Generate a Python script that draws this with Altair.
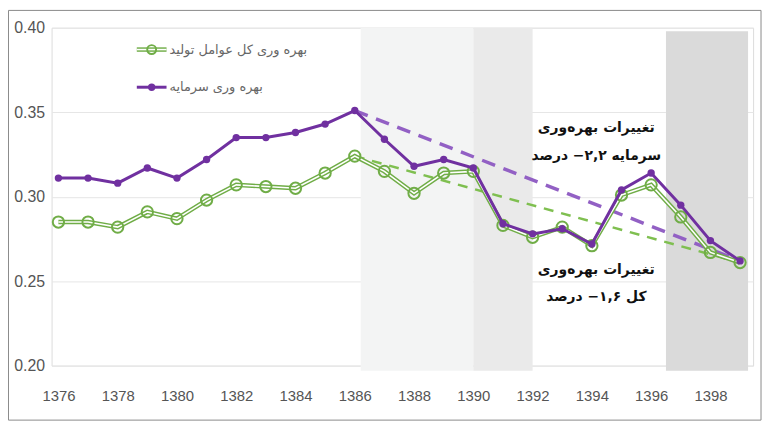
import altair as alt
import pandas as pd

years = list(range(1376, 1400))
capital = [0.311, 0.311, 0.308, 0.317, 0.311, 0.322, 0.335, 0.335, 0.338, 0.343, 0.351,
           0.334, 0.318, 0.322, 0.317, 0.284, 0.278, 0.281, 0.272, 0.304, 0.314, 0.295,
           0.274, 0.262]
tfp = [0.285, 0.285, 0.282, 0.291, 0.287, 0.298, 0.307, 0.306, 0.305, 0.314, 0.324,
       0.315, 0.302, 0.314, 0.315, 0.283, 0.276, 0.282, 0.271, 0.301, 0.307, 0.288,
       0.267, 0.261]
series_names = ["بهره وری کل عوامل تولید", "بهره وری سرمایه"]

band_start = [1386.2, 1390, 1396.5]
band_end = [1390, 1392, 1399.27]
band_top = [0.40, 0.40, 0.398]
band_color = ["#f3f4f4", "#eaeaea", "#dadada"]

trend_from = 1386
trend_to = 1399

ann_x = [1394.15, 1394.15, 1394.15, 1394.15]
ann_y = [0.3406, 0.3241, 0.2565, 0.2406]
ann_text = ["تغییرات بهره‌وری", "سرمایه ۲,۲− درصد", "تغییرات بهره‌وری", "کل ۱,۶− درصد"]

xticks = list(range(1376, 1400, 2))
yticks = [0.20, 0.25, 0.30, 0.35, 0.40]

PURPLE = "#7030a0"
PURPLE_D = "#9260c4"
GREEN = "#70ad47"
GREEN_D = "#7fbf50"

df = pd.DataFrame({"year": years, "capital": capital, "tfp": tfp})
bands = pd.DataFrame({"x": band_start, "x2": band_end, "y": [0.197] * 3, "y2": band_top, "c": band_color})
i0 = years.index(trend_from)
i1 = years.index(trend_to)
trend = pd.DataFrame({
    "year": [trend_from, trend_to, trend_from, trend_to],
    "v": [capital[i0], capital[i1], tfp[i0], tfp[i1]],
    "s": ["cap", "cap", "tfp", "tfp"],
})
ann = pd.DataFrame({"x": ann_x, "y": ann_y, "t": ann_text})

xscale = alt.Scale(domain=[1375.77, 1399.44], nice=False, zero=False)
yscale = alt.Scale(domain=[0.20, 0.40], nice=False, zero=False)
xaxis = alt.Axis(values=xticks, format="d", grid=False, domain=False, ticks=False, labelPadding=23,
                 labelFontSize=15, labelFont="Liberation Sans", labelColor="#555", title=None)
yaxis = alt.Axis(values=yticks, format=".2f", grid=True, gridColor="#e6e6e6", domain=False, ticks=False,
                 labelPadding=7, labelFontSize=16, labelFont="Liberation Sans", labelColor="#555",
                 title=None)

frame = alt.Chart(pd.DataFrame({"a": [0]})).mark_rect(fill=None, stroke="#8a8a8a", strokeWidth=1).encode(
    x=alt.value(-43.5), x2=alt.value(716), y=alt.value(-17.5), y2=alt.value(396))

band_layer = alt.Chart(bands).mark_rect().encode(
    x=alt.X("x:Q", scale=xscale, axis=xaxis), x2="x2:Q",
    y=alt.Y("y:Q", scale=yscale, axis=yaxis), y2="y2:Q",
    color=alt.Color("c:N", scale=None))

base = alt.Chart(df)

trend_cap = alt.Chart(trend[trend.s == "cap"]).mark_line(color=PURPLE_D, strokeWidth=3.5, strokeDash=[14, 9]).encode(
    x=alt.X("year:Q", scale=xscale), y=alt.Y("v:Q", scale=yscale))
trend_tfp = alt.Chart(trend[trend.s == "tfp"]).mark_line(color=GREEN_D, strokeWidth=2.5, strokeDash=[10, 8]).encode(
    x=alt.X("year:Q", scale=xscale), y=alt.Y("v:Q", scale=yscale))

tfp_outer = base.mark_line(color=GREEN, strokeWidth=4.5).encode(x=alt.X("year:Q", scale=xscale), y=alt.Y("tfp:Q", scale=yscale))
tfp_inner = base.mark_line(color="white", strokeWidth=1.6).encode(x=alt.X("year:Q", scale=xscale), y=alt.Y("tfp:Q", scale=yscale))
tfp_pts = base.mark_point(shape="circle", size=130, filled=False, color=GREEN, strokeWidth=2, opacity=1).encode(
    x=alt.X("year:Q", scale=xscale), y=alt.Y("tfp:Q", scale=yscale))

cap_line = base.mark_line(color=PURPLE, strokeWidth=3).encode(x=alt.X("year:Q", scale=xscale), y=alt.Y("capital:Q", scale=yscale))
cap_pts = base.mark_circle(color=PURPLE, size=55, opacity=1).encode(x=alt.X("year:Q", scale=xscale), y=alt.Y("capital:Q", scale=yscale))

one = alt.Chart(pd.DataFrame({"a": [0]}))
leg_g1 = one.mark_rule(color=GREEN, strokeWidth=4.5).encode(x=alt.value(86), x2=alt.value(116), y=alt.value(22))
leg_g2 = one.mark_rule(color="white", strokeWidth=1.6).encode(x=alt.value(86), x2=alt.value(116), y=alt.value(22))
leg_gp = one.mark_point(shape="circle", size=80, filled=False, color=GREEN, strokeWidth=2, opacity=1).encode(
    x=alt.value(101), y=alt.value(22))
leg_p1 = one.mark_rule(color=PURPLE, strokeWidth=3).encode(x=alt.value(86), x2=alt.value(116), y=alt.value(60))
leg_pp = one.mark_circle(color=PURPLE, size=55, opacity=1).encode(x=alt.value(101), y=alt.value(60))
leg_t1 = one.mark_text(text=series_names[0], align="left", baseline="middle", fontSize=13, color="#666",
                       font="DejaVu Sans").encode(x=alt.value(119), y=alt.value(22))
leg_t2 = one.mark_text(text=series_names[1], align="left", baseline="middle", fontSize=13, color="#666",
                       font="DejaVu Sans").encode(x=alt.value(119), y=alt.value(60))

ann_layer = alt.Chart(ann).mark_text(fontSize=14, fontWeight="bold", color="#111", font="DejaVu Sans",
                                     align="center", baseline="middle").encode(
    x=alt.X("x:Q", scale=xscale), y=alt.Y("y:Q", scale=yscale), text="t:N")

chart = alt.layer(
    band_layer, frame, trend_tfp, trend_cap, tfp_outer, tfp_inner, tfp_pts, cap_line, cap_pts,
    leg_g1, leg_g2, leg_gp, leg_p1, leg_pp, leg_t1, leg_t2, ann_layer
).properties(
    width=708, height=341,
    autosize=alt.AutoSizeParams(type="none"),
    padding={"left": 44, "top": 18, "right": 10, "bottom": 60},
).configure_view(stroke=None).configure(background="white")

chart.save("out.html", embed_options={"renderer": "svg", "actions": False})
